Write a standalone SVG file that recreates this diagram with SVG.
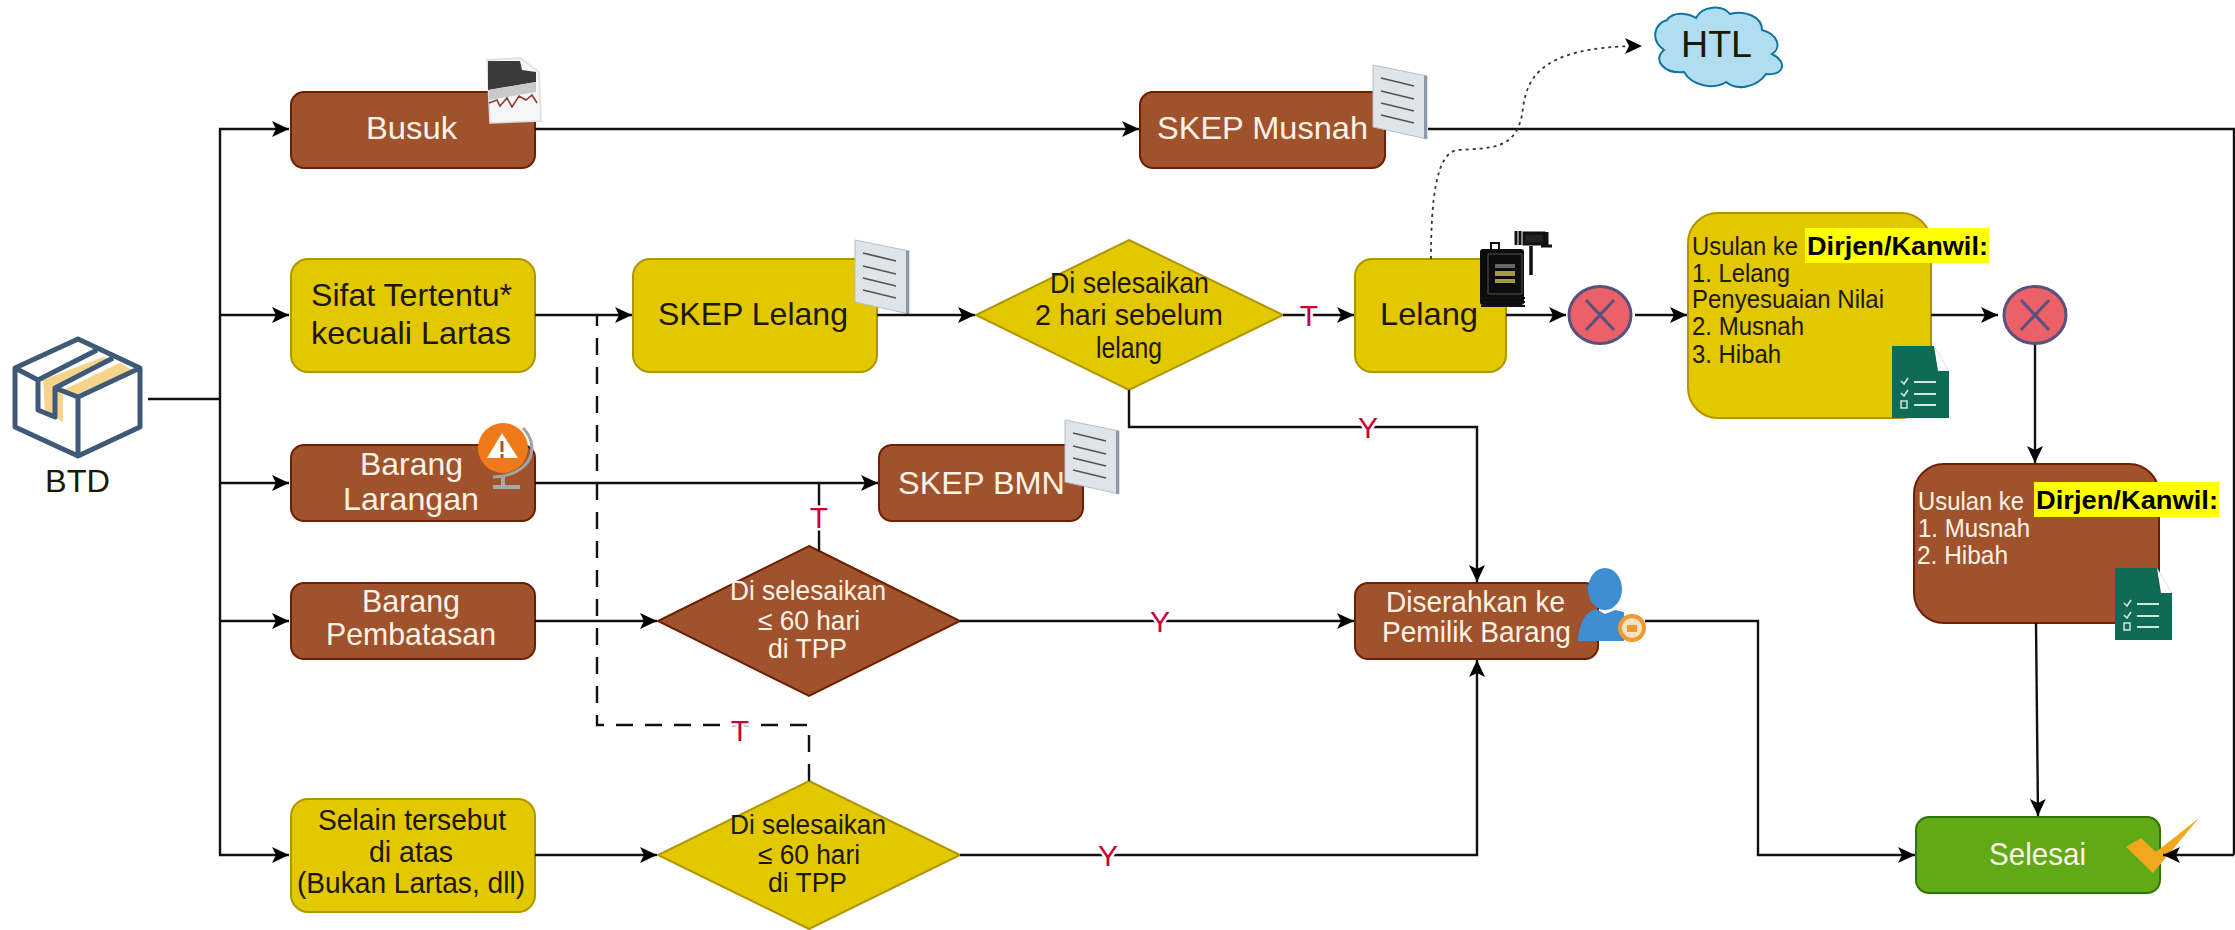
<svg xmlns="http://www.w3.org/2000/svg" width="2235" height="930" viewBox="0 0 2235 930">
<style>
text{font-family:"Liberation Sans",Arial,sans-serif;font-size:32px;white-space:pre}
.brown{fill:#a0522d;stroke:#6d1f00;stroke-width:2}
.yellow{fill:#e3c800;stroke:#b09500;stroke-width:2}
.green{fill:#60a917;stroke:#2d7600;stroke-width:2}
.lt{fill:#fff3e6}
.dk{fill:#1c1800}
.d{font-size:27px}
.t{font-size:29px}
.m{font-size:25px}
.hl{fill:#000;font-weight:bold;font-size:26px}
.mark{fill:#ffff00}
.c{fill:none;stroke:#111;stroke-width:2.4}
.a{marker-end:url(#arr)}
.dash{stroke-dasharray:17 12}
.dot{stroke:#333;stroke-dasharray:3 4;stroke-width:1.8}
.lbl{fill:#cc0033;font-size:30px;text-anchor:middle;paint-order:stroke;stroke:#fff;stroke-width:5px}
.x{fill:#ec6068;stroke:#56517e;stroke-width:3}
.xl{stroke:#56517e;stroke-width:3;fill:none}
</style>
<defs>
<marker id="arr" markerUnits="userSpaceOnUse" markerWidth="20" markerHeight="20" refX="17" refY="9" orient="auto"><path d="M0 1L17 9L0 17L4 9Z" fill="#000"/></marker>
<g id="doc">
<path d="M0 0L54 11V74L0 62Z" fill="#dfe3ea" stroke="#b9bec8" stroke-width="1"/>
<path d="M51 10.500L54 11V74L51 73.400Z" fill="#8d99ab"/>
<path d="M8 13L41 21M8 26L41 34M8 38L41 46M8 50L41 58" stroke="#555" stroke-width="1.800" fill="none"/>
</g>
<g id="chk">
<path d="M0 0H42L57 25V72H0Z" fill="#0f6b55"/>
<path d="M42 0L57 25H46Z" fill="#fff"/>
<path d="M22 36H44M22 48H44M22 59H44" stroke="#cfe8de" stroke-width="2" fill="none"/>
<path d="M9 35L12 38L16 32M9 47L12 50L16 44" stroke="#cfe8de" stroke-width="1.600" fill="none"/>
<rect x="9" y="55" width="6" height="7" fill="none" stroke="#cfe8de" stroke-width="1.500"/>
</g>
</defs>

<g id="btd">
<path d="M43 380L103 357L110 360L53 387L63 390L63 422L45 412ZM63 390L120 363L132 370L75 395Z" fill="#f6d58b"/>
<path d="M78 339L140 368V427L78 456L15 427V368ZM15 368L38 380M55 388L78 397V456M78 397L140 368M38 380V410L55 417V388L113 358M38 380L97 350" fill="none" stroke="#3e5a78" stroke-width="5" stroke-linejoin="round"/>
<text class="dk" x="45" y="492" textLength="65" lengthAdjust="spacingAndGlyphs">BTD</text>
</g>

<g id="busuk">
<rect class="brown" x="291" y="92" width="244" height="76" rx="13"/>
<text class="lt" x="366" y="139" textLength="91" lengthAdjust="spacingAndGlyphs">Busuk</text>
<path d="M487 60L520 58L539 72L541 121L490 123Z" fill="#f6f6f6" stroke="#ddd" stroke-width="1.500"/>
<path d="M488 61L520 61L522 70L536 72L536 82L488 90Z" fill="#3b3b3b"/>
<path d="M489 90L536 82V92L489 100Z" fill="#c9c9c9"/>
<path d="M489 103L497 100L500 106L507 98L512 107L519 96L526 100L532 95L537 103" fill="none" stroke="#8d3b33" stroke-width="1.600"/>
</g>

<g id="sifat">
<rect class="yellow" x="291" y="259" width="244" height="113" rx="17"/>
<text class="dk" x="311" y="306" textLength="201" lengthAdjust="spacingAndGlyphs">Sifat Tertentu*</text>
<text class="dk" x="311" y="344" textLength="200" lengthAdjust="spacingAndGlyphs">kecuali Lartas</text>
</g>

<g id="larangan">
<rect class="brown" x="291" y="445" width="244" height="76" rx="13"/>
<text class="lt" x="360" y="475" textLength="103" lengthAdjust="spacingAndGlyphs">Barang</text>
<text class="lt" x="343" y="510" textLength="136" lengthAdjust="spacingAndGlyphs">Larangan</text>
<path d="M523 428C540 445 534 475 493 477" fill="none" stroke="#a3a3a3" stroke-width="3"/>
<path d="M503 477V487M493 487H520" stroke="#a8a8a8" stroke-width="4" fill="none"/>
<circle cx="503" cy="448" r="25" fill="#f07a1a"/>
<path d="M502 433L518 458H487Z" fill="#fff"/>
<path d="M502 441V452M502 454V458" stroke="#b3541a" stroke-width="3"/>
</g>

<g id="pembatasan">
<rect class="brown" x="291" y="583" width="244" height="76" rx="13"/>
<text class="lt" x="362" y="612" textLength="98" lengthAdjust="spacingAndGlyphs">Barang</text>
<text class="lt" x="326" y="645" textLength="170" lengthAdjust="spacingAndGlyphs">Pembatasan</text>
</g>

<g id="selain">
<rect class="yellow" x="291" y="799" width="244" height="113" rx="17"/>
<text class="dk d" x="318" y="830" style="font-size:30px" textLength="188" lengthAdjust="spacingAndGlyphs">Selain tersebut</text>
<text class="dk d" x="369" y="862" style="font-size:30px" textLength="84" lengthAdjust="spacingAndGlyphs">di atas</text>
<text class="dk d" x="297" y="893" style="font-size:30px" textLength="228" lengthAdjust="spacingAndGlyphs">(Bukan Lartas, dll)</text>
</g>

<g id="skep-lelang">
<rect class="yellow" x="633" y="259" width="244" height="113" rx="17"/>
<text class="dk" x="658" y="325" textLength="190" lengthAdjust="spacingAndGlyphs">SKEP Lelang</text>
<use href="#doc" x="855" y="240"/>
</g>

<g id="skep-musnah">
<rect class="brown" x="1140" y="92" width="245" height="76" rx="13"/>
<text class="lt" x="1157" y="139" textLength="211" lengthAdjust="spacingAndGlyphs">SKEP Musnah</text>
<use href="#doc" x="1373" y="65"/>
</g>

<g id="skep-bmn">
<rect class="brown" x="879" y="445" width="204" height="76" rx="13"/>
<text class="lt" x="898" y="494" textLength="167" lengthAdjust="spacingAndGlyphs">SKEP BMN</text>
<use href="#doc" x="1065" y="420"/>
</g>

<g id="dec-lelang">
<path class="yellow" d="M1129 240L1283 315L1129 390L976 315Z"/>
<text class="dk t" x="1050" y="293" textLength="159" lengthAdjust="spacingAndGlyphs">Di selesaikan</text>
<text class="dk t" x="1035" y="325" textLength="188" lengthAdjust="spacingAndGlyphs">2 hari sebelum</text>
<text class="dk t" x="1096" y="358" textLength="66" lengthAdjust="spacingAndGlyphs">lelang</text>
</g>

<g id="dec-pembatasan">
<path class="brown" d="M809 546L960 621L809 696L658 621Z"/>
<text class="lt d" x="730" y="600" textLength="156" lengthAdjust="spacingAndGlyphs">Di selesaikan</text>
<text class="lt d" x="758" y="630" textLength="102" lengthAdjust="spacingAndGlyphs">≤ 60 hari</text>
<text class="lt d" x="768" y="658" textLength="79" lengthAdjust="spacingAndGlyphs">di TPP</text>
</g>

<g id="dec-selain">
<path class="yellow" d="M809 781L960 855L809 929L658 855Z"/>
<text class="dk d" x="730" y="834" textLength="156" lengthAdjust="spacingAndGlyphs">Di selesaikan</text>
<text class="dk d" x="758" y="864" textLength="102" lengthAdjust="spacingAndGlyphs">≤ 60 hari</text>
<text class="dk d" x="768" y="892" textLength="79" lengthAdjust="spacingAndGlyphs">di TPP</text>
</g>

<g id="lelang">
<rect class="yellow" x="1355" y="259" width="151" height="113" rx="17"/>
<text class="dk" x="1380" y="325" textLength="98" lengthAdjust="spacingAndGlyphs">Lelang</text>
<rect x="1480" y="249" width="44" height="56" rx="3" fill="#0c0c0c"/>
<path d="M1488 254H1522V294H1488Z" fill="none" stroke="#555" stroke-width="1"/>
<rect x="1495" y="264" width="20" height="4" fill="#666"/>
<rect x="1495" y="271" width="20" height="5" fill="#a59a3a"/>
<rect x="1495" y="279" width="20" height="4" fill="#a59a3a"/>
<rect x="1491" y="243" width="8" height="7" fill="none" stroke="#111" stroke-width="2"/>
<path d="M1481 298H1525M1481 302H1525M1481 306H1525" stroke="#111" stroke-width="1.800" fill="none"/>
<path d="M1516 231V245M1520 231V245M1524 233H1544V244H1524ZM1547 232V246M1552 246H1541" stroke="#111" stroke-width="3" fill="#222"/>
<path d="M1531 246V275" stroke="#111" stroke-width="3.500" fill="none"/>
</g>

<g id="gate-1">
<ellipse class="x" cx="1600" cy="315" rx="31" ry="28.500"/>
<path class="xl" d="M1586 300L1614 330M1614 300L1586 330"/>
</g>

<g id="usulan-1">
<rect class="yellow" x="1688" y="213" width="243" height="205" rx="30"/>
<text class="dk m" x="1692" y="255" textLength="106" lengthAdjust="spacingAndGlyphs">Usulan ke</text>
<rect class="mark" x="1805" y="228" width="184" height="35"/>
<text class="hl" x="1807" y="255" textLength="181" lengthAdjust="spacingAndGlyphs">Dirjen/Kanwil:</text>
<text class="dk m" x="1692" y="282" textLength="98" lengthAdjust="spacingAndGlyphs">1. Lelang</text>
<text class="dk m" x="1692" y="308" textLength="192" lengthAdjust="spacingAndGlyphs">Penyesuaian Nilai</text>
<text class="dk m" x="1692" y="335" textLength="112" lengthAdjust="spacingAndGlyphs">2. Musnah</text>
<text class="dk m" x="1692" y="363" textLength="89" lengthAdjust="spacingAndGlyphs">3. Hibah</text>
<use href="#chk" x="1892" y="346"/>
</g>

<g id="gate-2">
<ellipse class="x" cx="2035" cy="315" rx="31" ry="28.500"/>
<path class="xl" d="M2021 300L2049 330M2049 300L2021 330"/>
</g>

<g id="usulan-2">
<rect class="brown" x="1914" y="464" width="245" height="159" rx="30"/>
<text class="lt m" x="1918" y="510" textLength="106" lengthAdjust="spacingAndGlyphs">Usulan ke</text>
<rect class="mark" x="2034" y="482" width="185" height="35"/>
<text class="hl" x="2036" y="509" textLength="182" lengthAdjust="spacingAndGlyphs">Dirjen/Kanwil:</text>
<text class="lt m" x="1918" y="537" textLength="112" lengthAdjust="spacingAndGlyphs">1. Musnah</text>
<text class="lt m" x="1917" y="564" textLength="91" lengthAdjust="spacingAndGlyphs">2. Hibah</text>
<use href="#chk" x="2115" y="568"/>
</g>

<g id="diserahkan">
<rect class="brown" x="1355" y="583" width="243" height="76" rx="13"/>
<text class="lt" x="1386" y="612" style="font-size:30px" textLength="179" lengthAdjust="spacingAndGlyphs">Diserahkan ke</text>
<text class="lt" x="1382" y="642" style="font-size:30px" textLength="189" lengthAdjust="spacingAndGlyphs">Pemilik Barang</text>
<ellipse cx="1605" cy="589" rx="17" ry="21" fill="#3d8fd1"/>
<path d="M1578 641C1579 625 1584 612 1596 609L1605 614L1615 610L1624 612V641Z" fill="#3d8fd1"/>
<circle cx="1632" cy="628" r="12" fill="#f7e3c4" stroke="#ef9a2e" stroke-width="4"/>
<rect x="1627" y="625" width="10" height="7" fill="#ef9a2e"/>
</g>

<g id="selesai">
<rect class="green" x="1916" y="817" width="244" height="76" rx="13"/>
<text class="lt" x="1989" y="865" textLength="97" lengthAdjust="spacingAndGlyphs">Selesai</text>
<path d="M2126 847L2141 838L2156 852L2199 818L2153 873Z" fill="#f2a81d"/>
</g>

<g id="htl">
<path d="M1667 20C1674 10 1690 14 1696 18C1702 6 1722 4 1730 14C1744 10 1762 16 1762 30C1778 34 1782 48 1772 54C1788 62 1784 76 1766 74C1758 86 1738 92 1726 82C1714 90 1692 86 1684 72C1664 74 1652 60 1664 50C1650 40 1654 24 1667 20Z" fill="#b1ddf0" stroke="#10739e" stroke-width="2"/>
<text class="dk" x="1681" y="57" style="font-size:36px" textLength="71" lengthAdjust="spacingAndGlyphs">HTL</text>
</g>

<g id="connectors">
<path class="c" d="M148 399H220"/>
<path class="c a" d="M220 399V129H289"/>
<path class="c a" d="M220 315H289"/>
<path class="c a" d="M220 483H289"/>
<path class="c a" d="M220 621H289"/>
<path class="c a" d="M220 399V855H289"/>
<path class="c a" d="M535 129H1139"/>
<path class="c" d="M1428 129H2234V855"/>
<path class="c a" d="M2234 855H2163"/>
<path class="c a" d="M535 315H632"/>
<path class="c dash" d="M809 781V725H597V315"/>
<path class="c a" d="M877 315H975"/>
<path class="c a" d="M1283 315H1354"/>
<path class="c a" d="M1506 315H1566"/>
<path class="c a" d="M1635 315H1687"/>
<path class="c a" d="M1931 315H1998"/>
<path class="c a" d="M2035 345V463"/>
<path class="c a" d="M2036 623L2038 816"/>
<path class="c a" d="M1129 390V427H1477V582"/>
<path class="c a" d="M535 483H878"/>
<path class="c" d="M819 483V551"/>
<path class="c a" d="M535 621H657"/>
<path class="c a" d="M960 621H1354"/>
<path class="c a" d="M535 855H657"/>
<path class="c a" d="M960 855H1477V660"/>
<path class="c a" d="M1645 621H1758V855H1915"/>
<path class="c dot a" d="M1431 259C1431 200 1436 152 1458 150C1490 148 1515 150 1522 115C1526 85 1530 46 1642 46"/>
<text class="lbl" x="819" y="528">T</text>
<text class="lbl" x="740" y="741">T</text>
<text class="lbl" x="1309" y="326">T</text>
<text class="lbl" x="1368" y="438">Y</text>
<text class="lbl" x="1160" y="632">Y</text>
<text class="lbl" x="1108" y="866">Y</text>
</g>
</svg>
